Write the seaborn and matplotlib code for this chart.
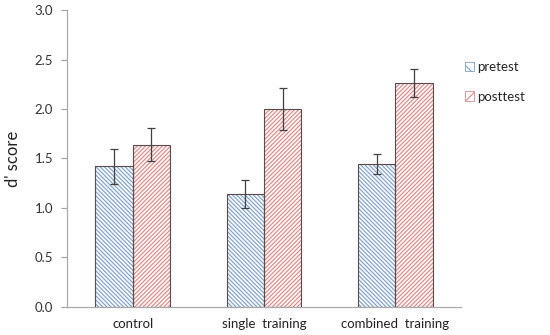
import matplotlib
matplotlib.use("Agg")
import matplotlib.pyplot as plt
import seaborn as sns
import pandas as pd
import numpy as np
from matplotlib.patches import Rectangle, Patch

categories = ["control", "single  training", "combined  training"]
tests = ["pretest", "posttest"]
pre_vals = [1.42, 1.14, 1.44]
post_vals = [1.64, 2.00, 2.26]
pre_err = [0.18, 0.14, 0.10]
post_err = [0.17, 0.21, 0.14]
yticks = [0.0, 0.5, 1.0, 1.5, 2.0, 2.5, 3.0]

hatch_colors = {"pretest": "#7fa0c6", "posttest": "#d98a88"}
hatches = {"pretest": "\\" * 8, "posttest": "/" * 8}

df = pd.DataFrame({
    "group": categories * 2,
    "test": ["pretest"] * 3 + ["posttest"] * 3,
    "score": pre_vals + post_vals,
    "err": pre_err + post_err,
})

sns.set_style("white")
plt.rcParams["font.family"] = ["Lato", "DejaVu Sans"]
plt.rcParams["hatch.linewidth"] = 0.8

fig = plt.figure(figsize=(5.5, 3.35), dpi=100)
ax = fig.add_axes([0.122, 0.084, 0.716, 0.886])

sns.barplot(data=df, x="group", y="score", hue="test", order=categories,
            hue_order=tests, width=0.57, errorbar=None, ax=ax,
            palette={"pretest": "#ffffff", "posttest": "#ffffff"},
            legend=False, linewidth=0)

for container, t in zip(ax.containers, tests):
    errs = df[df.test == t].set_index("group").loc[categories, "err"].values
    vals = df[df.test == t].set_index("group").loc[categories, "score"].values
    xs = []
    for p in container.patches:
        p.set_hatch(hatches[t])
        p.set_edgecolor(hatch_colors[t])
        p.set_facecolor("#f6f8fc" if t == "pretest" else "#fcf5f5")
        p.set_linewidth(0)
        ax.add_patch(Rectangle((p.get_x(), p.get_y()), p.get_width(), p.get_height(),
                               fill=False, edgecolor="#5a4a4a", linewidth=0.8, zorder=3))
        xs.append(p.get_x() + p.get_width() / 2)
    ax.errorbar(xs, vals, yerr=errs, fmt="none", ecolor="#404040",
                elinewidth=0.9, capsize=2.8, capthick=0.9, zorder=4)

ax.set_xlim(-0.5, 2.5)
ax.set_ylim(0, 3.0)
ax.set_yticks(yticks)
ax.set_yticklabels([f"{v:.1f}" for v in yticks])
ax.set_xlabel("")
ax.set_ylabel("d' score", fontsize=12, color="#222222", labelpad=10)
ax.tick_params(axis="y", which="both", left=True, length=4, width=0.8,
               color="#a0a0a0", labelsize=9.5, labelcolor="#333333", pad=6)
ax.tick_params(axis="x", length=0, labelsize=9.5, labelcolor="#222222", pad=8)
for s in ["top", "right"]:
    ax.spines[s].set_visible(False)
for s in ["left", "bottom"]:
    ax.spines[s].set_color("#aaaaaa")
    ax.spines[s].set_linewidth(0.9)

handles = [Patch(facecolor="white", edgecolor=hatch_colors[t], hatch="\\\\\\" if t == "pretest" else "///",
                 linewidth=0.6, label=t) for t in tests]
leg = fig.legend(handles=handles, loc="upper left", bbox_to_anchor=(0.823, 0.852),
                 frameon=False, fontsize=9.5, handlelength=0.7, handleheight=0.7,
                 handletextpad=0.25, labelspacing=1.3)

fig.savefig("out.png", dpi=100)
